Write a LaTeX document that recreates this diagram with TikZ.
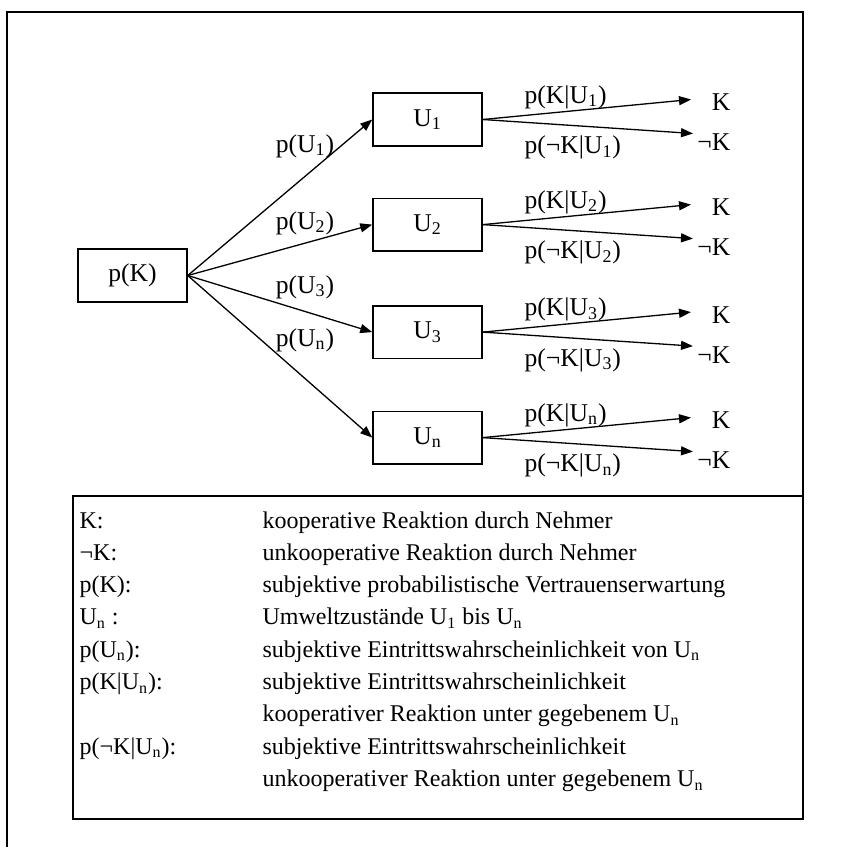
\documentclass[tikz,border=0pt]{standalone}
\usepackage{fontspec}
\setmainfont{Liberation Serif}
\usetikzlibrary{arrows.meta}
\usetikzlibrary{positioning}
\usetikzlibrary{calc}
\newcommand\ix[1]{\textsubscript{#1}}
\newcommand\treefont{\fontsize{12.8}{15}\selectfont}
\newcommand\legsize{\fontsize{12}{14}\selectfont}

\begin{document}
\begin{tikzpicture}[x=0.5pt, y=-0.5pt,
	line width=0.65pt,
	state/.style={rectangle, draw=black, line width=0.75pt, minimum width=54.5pt, minimum height=26.3pt, inner sep=0pt, font=\treefont},
	branch/.style={-{Triangle[length=6pt,width=4.5pt]}},
	lbl/.style={inner sep=0pt, font=\treefont},
	legtxt/.style={anchor=base west, inner sep=0pt, font=\legsize}]

	\useasboundingbox (0,0) rectangle (860,847);

	% frame
	\draw[line width=0.75pt] (7,847) -- (7,12) -- (803,12) -- (803,819);

	% state boxes
	\node[state] (pK) at (132.5,275.5) {p(K)};
	\node[state] (U1) at (427.5,119.5) {U\ix{1}};
	\node[state, below=25.5pt of U1] (U2) {U\ix{2}};
	\node[state, below=26.7pt of U2] (U3) {U\ix{3}};
	\node[state, below=25.7pt of U3] (U4) {U\ix{n}};

	% first stage
	\foreach \i in {1,...,4}
	\draw[branch] (pK.east) -- (U\i.west);

	\foreach \i/\s/\b in {1/1/152, 2/2/229, 3/3/293, 4/n/346}
	\node[lbl, anchor=base] (pU\i) at (305,\b) {p(U\ix{\s})};

	% second stage
	\foreach \i/\s in {1/1, 2/2, 3/3, 4/n}{
		\coordinate (K\i) at ($(U\i)+(263.5,-20)$);
		\coordinate (N\i) at ($(U\i)+(265.5,14)$);
		\draw[branch] (U\i.east) -- (K\i);
		\draw[branch] (U\i.east) -- (N\i);
		\node[lbl, anchor=base east] (kt\i) at ($(U\i)+(303.5,-9)$) {K};
		\node[lbl, anchor=base east] (nt\i) at ($(U\i)+(303.5,31)$) {¬K};
		\node[lbl, anchor=base west] (pk\i) at ($(U\i)+(96.5,-16.5)$) {p(K|U\ix{\s})};
		\node[lbl, anchor=base west] (pn\i) at ($(U\i)+(96.5,34)$) {p(¬K|U\ix{\s})};
	}

	% legend
	\draw[line width=0.75pt] (73,496) rectangle (803,819);
	\foreach \r/\a/\b in {
		1/K:/kooperative Reaktion durch Nehmer,
		2/¬K:/unkooperative Reaktion durch Nehmer,
		3/p(K):/subjektive probabilistische Vertrauenserwartung,
		4/U\ix{n} :/Umweltzustände U\ix{1} bis U\ix{n},
		5/p(U\ix{n}):/subjektive Eintrittswahrscheinlichkeit von U\ix{n},
		6/p(K|U\ix{n}):/subjektive Eintrittswahrscheinlichkeit,
		7//kooperativer Reaktion unter gegebenem U\ix{n},
		8/p(¬K|U\ix{n}):/subjektive Eintrittswahrscheinlichkeit,
		9//unkooperativer Reaktion unter gegebenem U\ix{n}}{
		\node[legtxt] (la\r) at (79,528+32.3*\r-32.3) {\a};
		\node[legtxt] (lb\r) at (262,528+32.3*\r-32.3) {\b};
	}

\end{tikzpicture}
\end{document}
